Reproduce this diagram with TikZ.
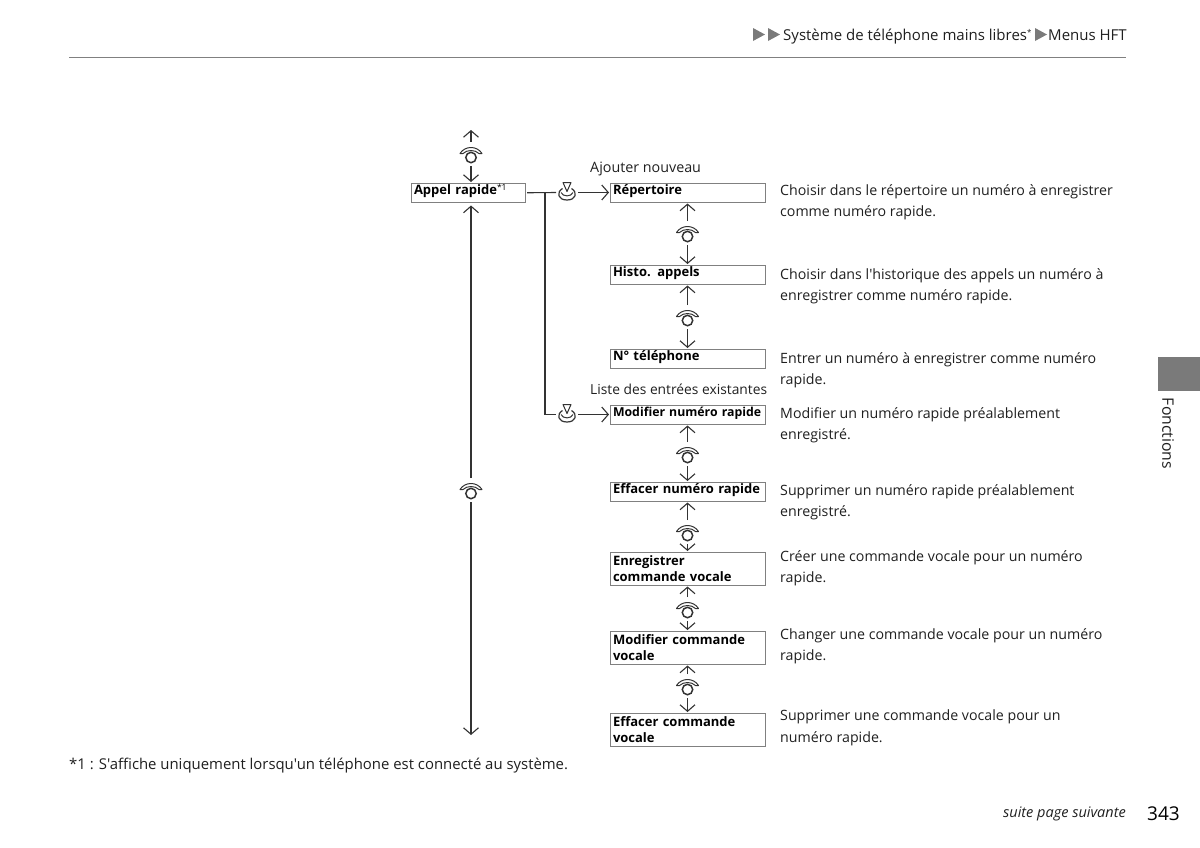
\documentclass[tikz,border=0pt]{standalone}
\usepackage{fontspec}
\setmainfont{Open Sans}[Ligatures=TeXOff]
\usepackage{tikz}
\usetikzlibrary{arrows.meta,positioning}
\definecolor{inkline}{gray}{0.2}
\definecolor{boxline}{gray}{0.5}
\definecolor{tabgray}{gray}{0.48}
\definecolor{inktext}{gray}{0.12}
\tikzset{
  wheelicon/.pic={
    \draw[inkline, line width=1.5pt] (0,-3.5) circle (5.2);
    \draw[inkline, line width=1pt, fill=white, line join=round] (-11,0.5) .. controls (-6,8.5) and (6,8.5) .. (11,0.5) -- (8,0.5) .. controls (4,4.5) and (-4,4.5) .. (-8,0.5) -- cycle;
  },
  pressicon/.pic={
    \draw[inkline, line width=1.2pt] (-4.5,4) .. controls (-11,0) and (-9,-7.5) .. (0,-7.5) .. controls (9,-7.5) and (11,0) .. (4.5,4);
    \draw[inkline, line width=1pt] (-6,0) .. controls (-4,-4.5) and (4,-4.5) .. (6,0);
    \draw[inkline, line width=1pt, fill=white, line join=round] (-4,10) -- (4,10) -- (0,1) -- cycle;
  }
}
\begin{document}
\begin{tikzpicture}[
  x=1pt, y=1pt,
  node distance=15pt,
  box/.style={draw=boxline, line width=1pt, anchor=north west, align=left, font=\fontsize{13}{16}\selectfont\bfseries, text=black, inner xsep=3pt, inner ysep=0pt, outer sep=0pt, text width=149pt, minimum height=19.5pt, text height=10pt, text depth=6pt},
  dbox/.style={box, minimum height=33.5pt, text height=, text depth=},
  mbox/.style={box, text width=108pt},
  desc/.style={anchor=north west, align=left, inner sep=0pt, text=inktext, font=\fontsize{14.2}{21}\selectfont},
  note/.style={anchor=west, inner sep=0pt, text=inktext, font=\fontsize{13.8}{16}\selectfont},
  hdr/.style={anchor=west, inner sep=0pt, text=inktext, font=\fontsize{15}{16}\selectfont},
  icon/.style={minimum width=24pt, minimum height=24pt, inner sep=0pt, outer sep=0pt},
  arr/.style={-{Straight Barb[length=6.5pt,width=15pt]}, line width=1.1pt, draw=inkline, shorten >=1pt},
  lin/.style={line width=1.1pt, draw=inkline}
]
\useasboundingbox (0,0) rectangle (1200,-847);
% header
\fill[tabgray] (753,-28) -- (765,-34.5) -- (753,-41) -- cycle;
\fill[tabgray] (768,-28) -- (780,-34.5) -- (768,-41) -- cycle;
\node[hdr] (title1) at (783,-36.5) {Système de téléphone mains libres};
\node[hdr, font=\fontsize{8}{8}\selectfont] (star) at (1027,-32) {*};
\fill[tabgray] (1035,-28) -- (1047,-34.5) -- (1035,-41) -- cycle;
\node[hdr] (title2) at (1048,-35) {Menus HFT};
\draw[boxline, line width=1.1pt] (69,-57.5) -- (1126,-57.5);
% left column
\node[mbox] (appel) at (411,-183) {Appel rapide\textsuperscript{\normalfont\fontsize{8.5}{8.5}\selectfont *1}};
\node[icon] (w0) at (471,-154) {};
\coordinate (top0) at (471,-129);
\node[icon] (wl) at (471,-490) {};
\coordinate (end0) at (471,-736);
% right column
\node[box] (rep) at (610,-183) {Répertoire};
\node[box, below=62.5pt of rep.south west, anchor=north west] (histo) {Histo. appels};
\node[box, below=64.5pt of histo.south west, anchor=north west] (tel) {N° téléphone};
\node[box, below=36.5pt of tel.south west, anchor=north west, font=\fontsize{12.3}{16}\selectfont\bfseries] (modif) {Modifier~numéro~rapide};
\node[box, below=57.5pt of modif.south west, anchor=north west] (eff) {Effacer~numéro~rapide};
\node[dbox, below=50.5pt of eff.south west, anchor=north west] (enr) {Enregistrer\\commande vocale};
\node[dbox, below=45.5pt of enr.south west, anchor=north west] (modcv) {Modifier commande\\vocale};
\node[dbox, below=48.5pt of modcv.south west, anchor=north west] (effcv) {Effacer commande\\vocale};
% wheels
\node[icon, below=18.5pt of rep.south] (w1) {};
\node[icon, below=20.5pt of histo.south] (w2) {};
\node[icon, below=17.5pt of modif.south] (w3) {};
\node[icon, below=18.5pt of eff.south] (w4) {};
\node[icon, below=11.5pt of enr.south] (w5) {};
\node[icon, below=9.5pt of modcv.south] (w6) {};
\foreach \n in {w0,wl,w1,w2,w3,w4,w5,w6} \pic at (\n) {wheelicon};
% press
\node[icon, minimum width=22pt] (p1) at (567,-192.5) {};
\node[icon, minimum width=22pt] (p2) at (567,-414.5) {};
\foreach \n in {p1,p2} \pic at (\n) {pressicon};
% labels
\node[note, font=\fontsize{14.3}{16}\selectfont] (add) at (590,-169) {Ajouter nouveau};
\node[note] (list) at (590,-389) {Liste des entrées existantes};
% connectors
\draw[arr] (w0) -- (top0);
\draw[arr] (w0) -- (w0 |- appel.north);
\draw[arr, shorten >=3pt] (wl) -- (wl |- appel.south);
\draw[arr] (wl) -- (end0);
\draw[lin] (appel.east)+(2,0) -- (p1.west);
\coordinate (jn) at (545,-192.5);
\draw[lin] (jn) |- (p2.west);
\draw[arr] (p1) -- (p1 -| rep.west);
\draw[arr] (p2) -- (p2 -| modif.west);
\draw[arr] (w1) -- (rep);
\draw[arr] (w1) -- (histo);
\draw[arr] (w2) -- (histo);
\draw[arr] (w2) -- (tel);
\draw[arr] (w3) -- (modif);
\draw[arr] (w3) -- (eff);
\draw[arr] (w4) -- (eff);
\draw[arr] (w4) -- (enr);
\draw[arr] (w5) -- (enr);
\draw[arr] (w5) -- (modcv);
\draw[arr] (w6) -- (modcv);
\draw[arr] (w6) -- (effcv);
% descriptions
\node[desc] (d1) at (780,-184) {Choisir dans le répertoire un numéro à enregistrer\\comme numéro rapide.};
\node[desc] (d2) at (780,-268) {Choisir dans l'historique des appels un numéro à\\enregistrer comme numéro rapide.};
\node[desc] (d3) at (780,-352) {Entrer un numéro à enregistrer comme numéro\\rapide.};
\node[desc] (d4) at (780,-407) {Modifier un numéro rapide préalablement\\enregistré.};
\node[desc] (d5) at (780,-484) {Supprimer un numéro rapide préalablement\\enregistré.};
\node[desc] (d6) at (780,-550) {Créer une commande vocale pour un numéro\\rapide.};
\node[desc] (d7) at (780,-628) {Changer une commande vocale pour un numéro\\rapide.};
\node[desc] (d8) at (780,-710) {Supprimer une commande vocale pour un\\numéro rapide.};
% footer
\node[note, font=\fontsize{14.9}{16}\selectfont] (foot) at (69,-766) {*1 : S'affiche uniquement lorsqu'un téléphone est connecté au système.};
\node[note, anchor=east, font=\fontsize{14.5}{16}\selectfont\itshape] (next) at (1126,-814) {suite page suivante};
\node[note, anchor=east, text=black, font=\fontsize{19}{20}\selectfont] (page) at (1180,-814) {343};
% side tab
\fill[tabgray] (1158,-357) rectangle (1200,-391);
\node[hdr, anchor=center, rotate=-90, font=\fontsize{15.8}{16}\selectfont] (tab) at (1168,-433.5) {Fonctions};
\end{tikzpicture}
\end{document}
